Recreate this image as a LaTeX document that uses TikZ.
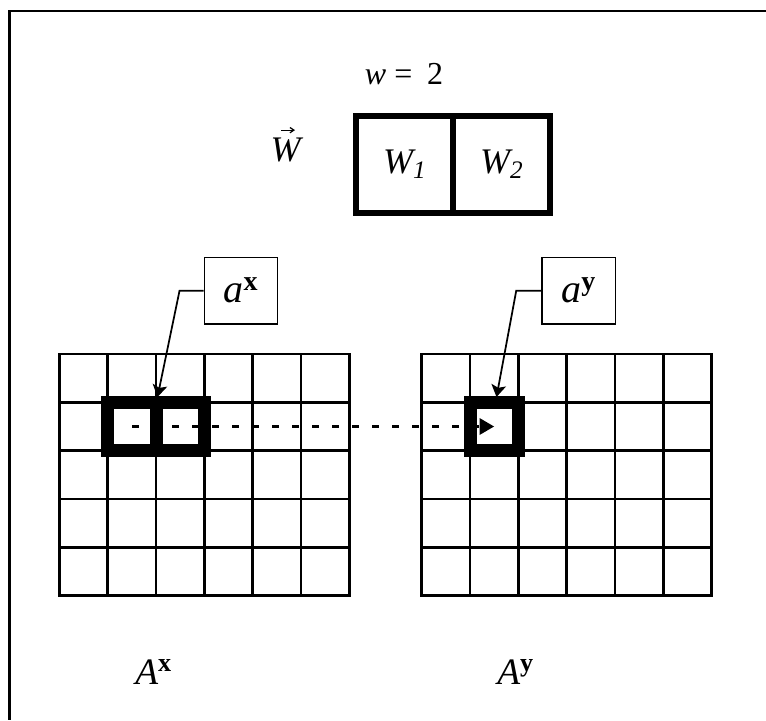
\documentclass[tikz,border=0pt]{standalone}
\usepackage{fontspec}
\setmainfont{Liberation Serif}
\usetikzlibrary{arrows.meta}

\begin{document}
\begin{tikzpicture}[x=0.75pt,y=-0.75pt,
    gridline/.style={line width=2pt, line cap=rect},
    window/.style={line width=9.75pt},
    wcell/.style={draw, line width=4.5pt, minimum width=72.75pt, minimum height=72.75pt, inner sep=0pt, font=\fontsize{27}{31}\selectfont},
    tag/.style={draw, line width=1.2pt, minimum width=55pt, minimum height=50pt, inner sep=0pt, font=\fontsize{30}{34}\selectfont},
    pointer/.style={line width=1.3pt, -{Stealth[length=9pt, width=11pt, inset=2pt]}},
    arrname/.style={inner sep=0pt, anchor=base west, font=\fontsize{28}{32}\selectfont}]
  \useasboundingbox (0,0) rectangle (766,720);
  % frame
  \draw[line width=1.6pt] (766,11) -- (9.5,11) -- (9.5,720);
  % weight vector
  \node[inner sep=0pt, anchor=base, font=\fontsize{24}{28}\selectfont] (wlen) at (404,85) {\textit{w}\hspace{6pt}=\hspace{11pt}2};
  \node[inner sep=0pt, anchor=base, font=\fontsize{27}{31}\selectfont] (wvec) at (287,162) {\textit{W}};
  \draw[line width=0.9pt, -{Straight Barb[length=3pt, width=4pt]}] ([xshift=-4.5pt, yshift=6pt]wvec.north) -- ([xshift=6pt, yshift=6pt]wvec.north);
  \node[wcell] (w1) at (404.8,164.2) {\textit{W\textsubscript{1}}};
  \node[wcell] (w2) at (501.8,164.2) {\textit{W\textsubscript{2}}};
  % the two arrays
  \foreach \gx in {59.5,421.7} {
    \foreach \i in {0,...,6}
      \draw[gridline] (\gx+\i*48.3,354) -- ++(0,241.5);
    \foreach \j in {0,...,5}
      \draw[gridline] (\gx,354+\j*48.3) -- ++(289.8,0);
  }
  % windows
  \draw[window] (107.8,402.3) rectangle (204.4,450.6);
  \draw[window] (156.1,402.3) -- (156.1,450.6);
  \draw[window] (470,402.3) rectangle (518.3,450.6);
  \coordinate (cx) at (132,426.5);
  \coordinate (cy) at (494.2,426.5);
  \draw[line width=2.5pt, dash pattern=on 5pt off 10pt, -{Triangle[length=11pt, width=12pt]}] (cx) -- (cy);
  % pointers
  \node[tag] (ax) at (241,290.7) {\textit{a}\textsuperscript{\textbf{x}}};
  \node[tag] (ay) at (578.7,290.7) {\textit{a}\textsuperscript{\textbf{y}}};
  \coordinate (tx) at (157.5,397);
  \coordinate (ty) at (496.5,397);
  \draw[pointer] (ax.west) -- ++(-24,0) -- (tx);
  \draw[pointer] (ay.west) -- ++(-25,0) -- (ty);
  % array names
  \node[arrname] (Ax) at (135,684) {\textit{A}\textsuperscript{\textbf{x}}};
  \node[arrname] (Ay) at (497,684) {\textit{A}\textsuperscript{\textbf{y}}};
\end{tikzpicture}
\end{document}
